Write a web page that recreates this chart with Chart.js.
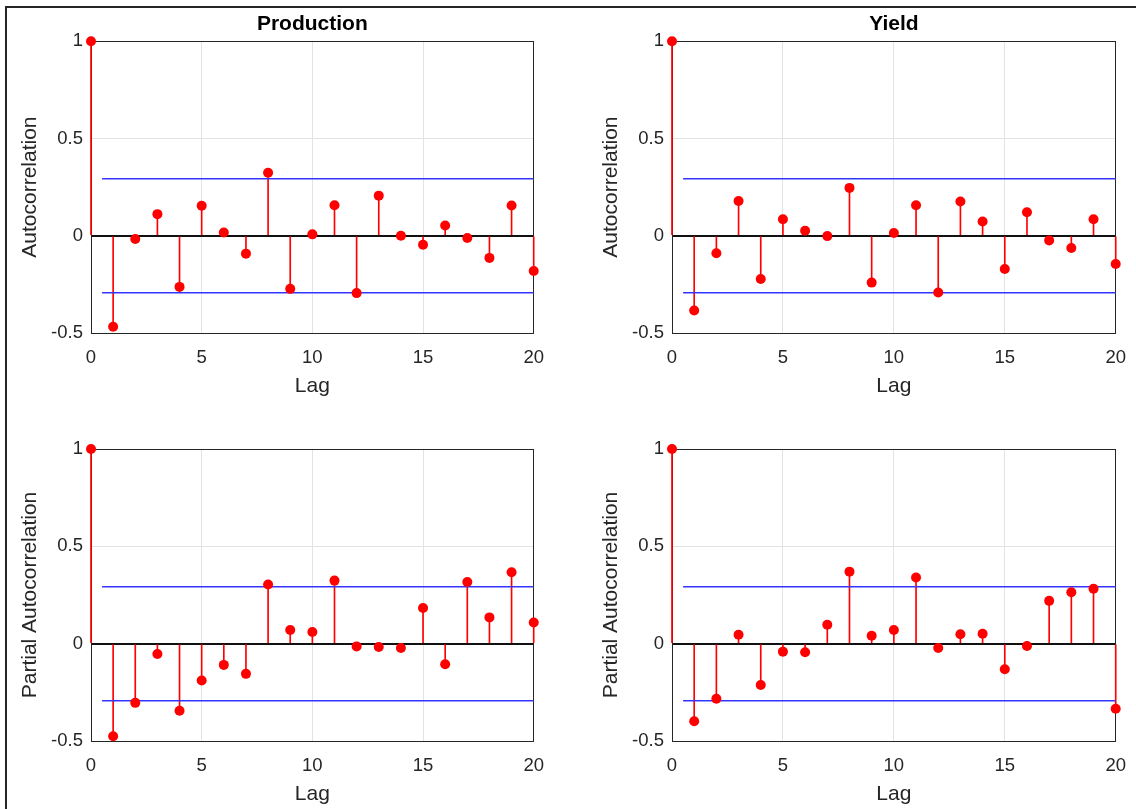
<!DOCTYPE html>
<html>
<head>
<meta charset="utf-8">
<script src="https://cdn.jsdelivr.net/npm/chart.js@4"></script>
<style>
  body { margin: 0; background: #fff; overflow: hidden; width: 1136px; height: 809px; position: relative; }
  canvas { position: absolute; }
  #frame { position: absolute; left: 5px; top: 6px; width: 1300px; height: 1000px; border-left: 2px solid #262626; border-top: 2px solid #262626; }
  #c1 { left: 0px; top: 0px; }
  #c2 { left: 581px; top: 0px; }
  #c3 { left: 0px; top: 429px; }
  #c4 { left: 581px; top: 429px; }
</style>
</head>
<body>
<div id="frame"></div>
<canvas id="c1" width="558" height="403"></canvas>
<canvas id="c2" width="559" height="403"></canvas>
<canvas id="c3" width="558" height="382"></canvas>
<canvas id="c4" width="559" height="382"></canvas>
<script>
const lags = [0, 1, 2, 3, 4, 5, 6, 7, 8, 9, 10, 11, 12, 13, 14, 15, 16, 17, 18, 19, 20];
const prodAcf = [1, -0.468, -0.017, 0.111, -0.263, 0.154, 0.017, -0.092, 0.324, -0.273, 0.007, 0.157, -0.295, 0.206, 0.0, -0.046, 0.053, -0.012, -0.114, 0.155, -0.181];
const yieldAcf = [1, -0.384, -0.090, 0.179, -0.222, 0.085, 0.026, -0.002, 0.246, -0.241, 0.014, 0.157, -0.292, 0.176, 0.073, -0.171, 0.121, -0.024, -0.063, 0.085, -0.145];
const prodPacf = [1, -0.476, -0.304, -0.053, -0.345, -0.189, -0.109, -0.155, 0.304, 0.070, 0.060, 0.324, -0.014, -0.017, -0.022, 0.183, -0.106, 0.317, 0.135, 0.367, 0.109];
const yieldPacf = [1, -0.399, -0.283, 0.046, -0.212, -0.041, -0.044, 0.097, 0.370, 0.041, 0.070, 0.340, -0.022, 0.048, 0.051, -0.131, -0.012, 0.220, 0.264, 0.282, -0.334];
const confBound = 0.293;
const boundFrom = 0.5;
const boundTo = 20;
const xTicks = [0, 5, 10, 15, 20];
const yTicks = [-0.5, 0, 0.5, 1];

const fontFamily = "'Liberation Sans', Arial, Helvetica, sans-serif";
const axisColor = '#262626';
const red = '#ff0000';
const blue = 'rgb(52,52,255)';

const setTicks = list => scale => { scale.ticks = list.map(v => ({ value: v })); };

const makePanel = (id, values, title, yLabel) => {
  var ctx = document.getElementById(id).getContext('2d');
  var points = lags.map((x, i) => ({ x: x, y: values[i] }));
  return new Chart(ctx, {
    type: 'scatter',
    data: {
      datasets: [
        {
          type: 'scatter',
          data: points,
          pointRadius: 5,
          pointHoverRadius: 5,
          pointBackgroundColor: red,
          pointBorderWidth: 0,
          clip: false
        },
        {
          type: 'line',
          data: [{ x: boundFrom, y: confBound }, { x: boundTo, y: confBound }],
          borderColor: blue,
          borderWidth: 1.5,
          pointRadius: 0,
          clip: false
        },
        {
          type: 'line',
          data: [{ x: boundFrom, y: -confBound }, { x: boundTo, y: -confBound }],
          borderColor: blue,
          borderWidth: 1.5,
          pointRadius: 0,
          clip: false
        },
        {
          type: 'bar',
          data: points,
          backgroundColor: red,
          borderWidth: 0,
          barThickness: 1,
          clip: false
        }
      ]
    },
    options: {
      responsive: false,
      animation: false,
      events: [],
      layout: { padding: { left: 0, right: 23, top: title ? 0 : 20, bottom: 0 } },
      plugins: {
        legend: { display: false },
        tooltip: { enabled: false },
        title: {
          display: !!title,
          fullSize: false,
          text: title,
          color: '#000',
          font: { family: fontFamily, size: 21, weight: 'bold' },
          padding: { top: 12, bottom: 4 }
        }
      },
      scales: {
        x: {
          type: 'linear',
          position: 'bottom',
          min: 0,
          max: 20,
          offset: false,
          afterBuildTicks: setTicks(xTicks),
          afterFit: scale => { scale.height = 70; },
          ticks: {
            color: axisColor,
            font: { family: fontFamily, size: 18.5 },
            padding: 14,
            autoSkip: false,
            maxRotation: 0,
            callback: v => String(v)
          },
          grid: { color: '#e3e3e3', drawTicks: false, offset: false },
          border: { color: axisColor, width: 1 },
          title: {
            display: true,
            text: 'Lag',
            color: axisColor,
            font: { family: fontFamily, size: 21 },
            padding: { top: 0, bottom: 4 }
          }
        },
        y: {
          type: 'linear',
          position: 'left',
          min: -0.5,
          max: 1,
          afterBuildTicks: setTicks(yTicks),
          afterFit: scale => { scale.width = 91; },
          ticks: {
            color: axisColor,
            font: { family: fontFamily, size: 18.5 },
            padding: 8,
            callback: v => String(v)
          },
          grid: {
            drawTicks: false,
            color: c => (c.tick && c.tick.value === 0 ? '#111' : '#e3e3e3'),
            lineWidth: c => (c.tick && c.tick.value === 0 ? 2 : 1)
          },
          border: { color: axisColor, width: 1 },
          title: {
            display: true,
            text: yLabel,
            color: axisColor,
            font: { family: fontFamily, size: 21 },
            padding: { top: 18, bottom: 0 }
          }
        },
        xTop: {
          type: 'linear',
          position: 'top',
          min: 0,
          max: 20,
          afterFit: scale => { scale.height = 0; },
          ticks: { display: false },
          grid: { drawOnChartArea: false, drawTicks: false },
          border: { color: axisColor, width: 1 }
        },
        yRight: {
          type: 'linear',
          position: 'right',
          min: -0.5,
          max: 1,
          afterFit: scale => { scale.width = 0; },
          ticks: { display: false },
          grid: { drawOnChartArea: false, drawTicks: false },
          border: { color: axisColor, width: 1 }
        }
      }
    }
  });
};

makePanel('c1', prodAcf, 'Production', 'Autocorrelation');
makePanel('c2', yieldAcf, 'Yield', 'Autocorrelation');
makePanel('c3', prodPacf, '', 'Partial Autocorrelation');
makePanel('c4', yieldPacf, '', 'Partial Autocorrelation');
</script>
</body>
</html>
